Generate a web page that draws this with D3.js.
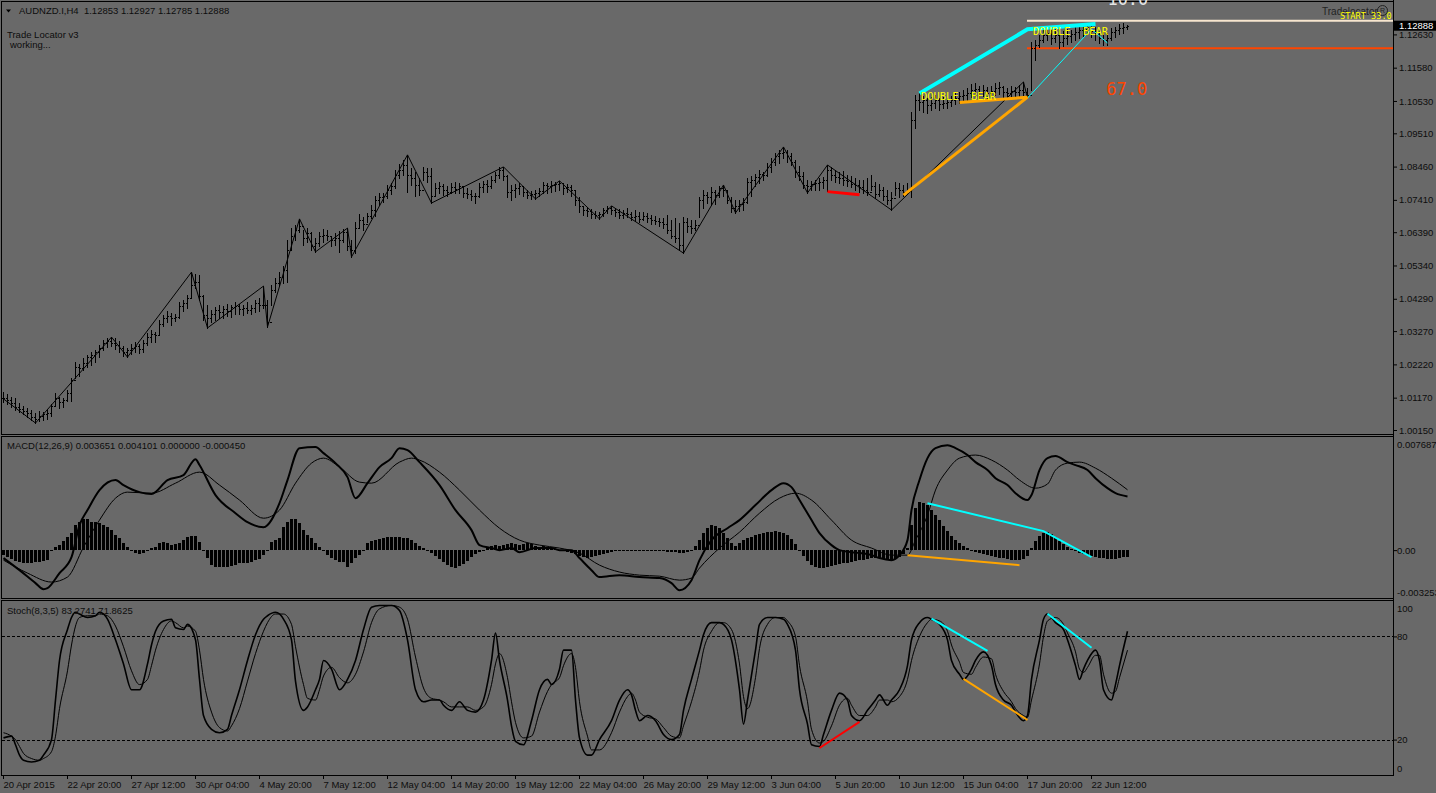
<!DOCTYPE html>
<html>
<head>
<meta charset="utf-8">
<title>AUDNZD.I,H4</title>
<script src="https://cdn.jsdelivr.net/npm/d3@7/dist/d3.min.js"></script>
<style>
  body { margin: 0; background: #696969; overflow: hidden; }
  svg { display: block; }
  text { font-family: "Liberation Sans", Arial, sans-serif; font-size: 9.5px; fill: #0d0d0d; white-space: pre; }
  .mono { font-family: "DejaVu Sans Mono", monospace; }
</style>
</head>
<body>
<svg id="chart" width="1436" height="793"></svg>
<script>
// H4 bars, prices in pips above 1.0000
var highPips = [135,129,119,116,100,91,84,78,69,75,
  72,81,97,132,119,116,141,179,230,223,
  242,252,261,267,283,299,305,308,305,296,
  280,274,286,293,286,299,321,330,324,362,
  378,390,384,381,419,425,441,513,507,504,
  441,409,394,403,409,406,412,409,419,412,
  409,419,409,425,431,469,425,472,495,513,
  532,614,652,662,681,646,652,640,621,640,
  649,646,627,637,643,649,652,614,671,696,
  687,700,725,753,763,763,788,794,835,854,
  867,883,842,829,810,845,842,842,794,797,
  791,785,794,797,794,782,778,772,763,794,
  801,804,816,829,845,845,819,788,791,794,
  785,772,769,772,778,797,794,801,797,801,
  794,791,788,769,750,722,715,712,706,703,
  715,722,722,715,712,709,715,703,709,703,
  703,700,693,690,684,684,693,678,684,668,
  687,684,678,678,750,772,766,782,772,785,
  788,772,750,741,741,747,810,816,823,835,
  829,857,873,889,898,908,898,889,867,848,
  829,804,801,804,810,813,851,845,835,829,
  832,819,816,810,804,804,810,819,797,791,
  782,772,766,797,794,788,794,1018,1072,1078,
  1069,1062,1066,1072,1062,1066,1062,1069,1078,1081,
  1088,1094,1107,1110,1100,1103,1097,1100,1110,1113,
  1100,1094,1100,1097,1103,1113,1094,1239,1245,1261,
  1277,1283,1277,1283,1277,1274,1280,1277,1286,1293,
  1296,1299,1293,1286,1277,1271,1267,1283,1286,1296,
  1299,1293];
var lowPips = [103,97,88,78,72,65,56,47,37,43,
  47,50,59,91,84,88,106,106,179,185,
  204,214,220,230,245,267,277,280,271,261,
  248,245,255,261,258,261,283,293,293,318,
  343,356,346,359,368,390,400,435,463,425,
  362,337,356,362,368,368,375,371,381,381,
  378,384,381,387,390,400,340,409,450,469,
  479,482,583,614,640,599,608,583,577,595,
  608,614,595,599,577,608,583,561,573,652,
  646,671,684,690,725,734,747,760,778,810,
  819,766,788,753,756,804,797,731,753,763,
  756,753,763,763,763,750,747,741,731,750,
  766,766,778,797,810,804,750,741,750,760,
  753,747,744,744,753,763,763,766,769,772,
  760,766,753,725,703,693,690,684,684,681,
  690,700,696,690,684,684,687,678,674,671,
  678,671,665,665,659,652,637,621,608,583,
  573,640,637,646,687,715,731,725,728,750,
  753,731,703,700,706,709,731,753,785,794,
  804,816,829,851,857,873,860,851,813,804,
  778,763,772,772,772,778,769,804,797,794,
  788,785,782,772,766,763,756,772,747,753,
  741,728,709,756,750,753,760,750,968,1025,
  1018,1015,1025,1031,1025,1031,1031,1037,1043,1047,
  1050,1056,1066,1069,1062,1069,1062,1069,1072,1075,
  1066,1066,1069,1066,1069,1072,1062,1088,1182,1223,
  1239,1245,1233,1239,1220,1226,1233,1239,1245,1252,
  1258,1264,1255,1245,1236,1230,1230,1245,1255,1264,
  1267,1279];
var closePips = [116,110,100,88,81,75,69,56,50,59,
  65,69,91,116,103,110,132,173,214,211,
  226,245,252,261,274,289,296,289,283,274,
  261,267,274,280,271,289,308,318,315,349,
  368,375,368,371,406,416,431,472,482,438,
  378,368,381,394,387,397,390,403,406,397,
  400,394,400,416,409,409,356,457,479,498,
  520,583,627,646,659,621,637,595,605,627,
  630,627,614,621,614,640,595,583,652,678,
  665,690,709,741,750,753,772,785,819,835,
  851,819,810,788,772,829,816,753,778,785,
  772,766,782,775,785,763,760,753,753,782,
  791,785,804,819,835,816,766,772,778,785,
  766,756,760,763,769,788,785,788,791,794,
  778,782,772,741,722,709,706,696,693,696,
  709,715,709,703,693,700,696,687,690,681,
  690,684,678,674,671,665,646,627,621,599,
  671,659,652,662,741,756,750,766,756,778,
  772,741,715,722,728,734,797,804,813,823,
  819,845,860,879,889,892,879,860,829,816,
  788,785,791,794,797,804,835,819,813,810,
  804,801,791,788,782,772,766,785,760,772,
  753,741,747,778,772,766,772,993,1056,1050,
  1056,1040,1047,1056,1043,1047,1050,1056,1062,1069,
  1072,1078,1088,1091,1081,1088,1078,1084,1094,1097,
  1081,1078,1084,1081,1088,1081,1072,1220,1230,1245,
  1261,1267,1252,1261,1239,1252,1258,1264,1271,1277,
  1280,1286,1274,1264,1252,1245,1252,1271,1277,1283,
  1286,1289];

// zigzag pivots [bar, pips]
var zigzag = [[0,113],[8,37],[27,308],[31,245],[47,513],[51,337],[65,469],[66,340],[74,681],[78,577],
  [86,652],[87,561],[101,883],[107,731],[125,845],[133,744],[139,801],[149,681],[152,722],[170,573],
  [180,788],[183,700],[195,908],[201,763],[206,851],[222,709],[255,1113],[256,1062]];
var zigzagLast = [[256,1.1062],[272,1.1280],[276,1.1236]];

// Trade Locator marks on the price window [bar, price]
var orangeLines = [[[225,1.0756],[256,1.1065]], [[239,1.1048],[256,1.1065]]];
var cyanLine = [[229,1.1077],[256,1.1279],[273,1.1296]];
var redLine = [[206,1.0767],[214,1.0757]];
var startBar = 256;
var whiteLevel = 1.1306;
var redLevel = 1.1219;

var priceTicks = [1.1263, 1.1158, 1.1053, 1.0951, 1.0846, 1.0741, 1.0639, 1.0534, 1.0429, 1.0327, 1.0222, 1.0117, 1.0015];
var lastPrice = 1.12888;

var timeLabels = ['20 Apr 2015', '22 Apr 20:00', '27 Apr 12:00', '30 Apr 04:00', '4 May 20:00', '7 May 12:00',
  '12 May 04:00', '14 May 20:00', '19 May 12:00', '22 May 04:00', '26 May 20:00', '29 May 12:00',
  '3 Jun 04:00', '5 Jun 20:00', '10 Jun 12:00', '15 Jun 04:00', '17 Jun 20:00', '22 Jun 12:00'];

// MACD(12,26,9) [bar, value]
var macdMain = [[0,-0.00054],[4,-0.00136],[8,-0.00224],[10,-0.00265],[11,-0.00258],[14,-0.00156],[17,-0.00048],[19,0.00170],
  [21,0.00272],[24,0.00408],[28,0.00476],[30,0.00442],[34,0.00394],[37,0.00381],[41,0.00476],[45,0.00510],[48,0.00618],
  [49,0.00578],[53,0.00374],[58,0.00251],[61,0.00190],[65,0.00156],[69,0.00319],[71,0.00476],[74,0.00693],[78,0.00700],
  [80,0.00659],[83,0.00591],[86,0.00496],[88,0.00353],[91,0.00455],[94,0.00564],[97,0.00625],[99,0.00693],[101,0.00680],
  [104,0.00598],[109,0.00442],[113,0.00272],[117,0.00136],[119,0.00034],[122,0.00014],[124,0],[127,0.00014],[129,-0.00014],
  [133,0.00014],[137,0.00014],[139,0],[142,0],[144,-0.00054],[147,-0.00136],[149,-0.00183],[154,-0.00170],[159,-0.00183],
  [164,-0.00190],[167,-0.00224],[169,-0.00272],[172,-0.00204],[174,-0.00068],[177,0.00068],[181,0.00149],[184,0.00204],
  [188,0.00306],[192,0.00408],[195,0.00455],[197,0.00428],[199,0.00340],[202,0.00204],[204,0.00116],[207,0.00034],[209,0],
  [212,-0.00014],[214,-0.00020],[217,-0.00034],[219,-0.00054],[222,-0.00068],[224,-0.00034],[226,0.00068],[227,0.00272],
  [229,0.00476],[231,0.00625],[233,0.00693],[236,0.00713],[238,0.00693],[241,0.00646],[243,0.00598],[246,0.00544],
  [248,0.00489],[251,0.00442],[253,0.00387],[256,0.00340],[257,0.00374],[259,0.00544],[261,0.00625],[263,0.00639],
  [266,0.00598],[268,0.00578],[271,0.00544],[273,0.00489],[276,0.00421],[278,0.00387],[281,0.00365]];
var macdSignal = [[0,-0.00068],[6,-0.00156],[12,-0.00217],[16,-0.00183],[20,0.00020],[24,0.00204],[28,0.00353],[31,0.00394],
  [37,0.00387],[43,0.00455],[49,0.00530],[54,0.00442],[59,0.00340],[65,0.00217],[69,0.00272],[73,0.00455],[77,0.00591],
  [80,0.00625],[84,0.00564],[89,0.00462],[92,0.00455],[99,0.00598],[102,0.00625],[104,0.00612],[109,0.00530],[114,0.00408],
  [119,0.00272],[124,0.00149],[129,0.00068],[134,0.00034],[139,0.00014],[144,-0.00020],[149,-0.00102],[154,-0.00149],
  [159,-0.00170],[164,-0.00177],[169,-0.00204],[172,-0.00190],[174,-0.00122],[179,0.00014],[184,0.00122],[189,0.00251],
  [194,0.00353],[198,0.00387],[202,0.00340],[207,0.00204],[212,0.00068],[217,0.00014],[222,-0.00034],[226,-0.00034],
  [228,0.00068],[231,0.00238],[233,0.00408],[236,0.00544],[239,0.00625],[243,0.00646],[247,0.00612],[251,0.00544],
  [254,0.00476],[258,0.00421],[261,0.00449],[263,0.00544],[266,0.00591],[269,0.00598],[273,0.00557],[277,0.00489],[281,0.00410]];
var macdHist = [-0.00034,-0.00048,-0.00061,-0.00075,-0.00082,-0.00088,-0.00088,-0.00088,-0.00082,-0.00082,
  -0.00075,-0.00068,-0.00007,0.00020,0.00034,0.00061,0.00088,0.00116,0.00170,0.00190,
  0.00211,0.00211,0.00190,0.00190,0.00183,0.00170,0.00156,0.00136,0.00102,0.00082,
  0.00048,0.00020,0,-0.00020,-0.00027,-0.00020,-0.00007,0.00014,0.00020,0.00048,
  0.00054,0.00048,0.00034,0.00041,0.00048,0.00068,0.00088,0.00095,0.00095,0.00054,
  0,-0.00054,-0.00102,-0.00116,-0.00116,-0.00116,-0.00116,-0.00109,-0.00102,-0.00088,
  -0.00088,-0.00088,-0.00082,-0.00068,-0.00061,-0.00034,-0.00007,0.00054,0.00068,0.00082,
  0.00156,0.00190,0.00211,0.00211,0.00183,0.00136,0.00102,0.00082,0.00048,0.00020,
  0,-0.00034,-0.00054,-0.00068,-0.00082,-0.00082,-0.00116,-0.00088,-0.00054,-0.00034,
  0,0.00048,0.00061,0.00068,0.00075,0.00082,0.00088,0.00088,0.00088,0.00088,
  0.00082,0.00082,0.00068,0.00048,0.00027,0.00014,0,-0.00020,-0.00041,-0.00061,
  -0.00082,-0.00102,-0.00116,-0.00122,-0.00109,-0.00095,-0.00075,-0.00048,-0.00027,-0.00014,
  0,0.00014,0.00027,0.00034,0.00027,0.00034,0.00041,0.00048,0.00041,0.00034,
  0.00041,0.00048,0.00041,0.00027,0.00020,0.00027,0.00020,0.00014,0.00007,0,
  -0.00007,-0.00014,-0.00020,-0.00027,-0.00041,-0.00048,-0.00054,-0.00048,-0.00041,-0.00034,
  -0.00027,-0.00020,-0.00014,-0.00007,-0.00007,-0.00007,0,0,0,-0.00007,
  -0.00007,0,0,-0.00007,-0.00007,-0.00007,-0.00014,-0.00014,-0.00014,-0.00020,
  -0.00020,-0.00014,0,0.00027,0.00068,0.00116,0.00149,0.00170,0.00163,0.00149,
  0.00116,0.00082,0.00048,0.00027,0.00048,0.00068,0.00082,0.00088,0.00102,0.00109,
  0.00116,0.00122,0.00122,0.00129,0.00122,0.00116,0.00102,0.00075,0.00041,0,
  -0.00041,-0.00075,-0.00102,-0.00116,-0.00122,-0.00122,-0.00116,-0.00109,-0.00102,-0.00095,
  -0.00088,-0.00088,-0.00082,-0.00075,-0.00068,-0.00068,-0.00061,-0.00054,-0.00054,-0.00054,
  -0.00061,-0.00068,-0.00068,-0.00061,-0.00048,-0.00027,0.00014,0.00170,0.00285,0.00326,
  0.00319,0.00306,0.00272,0.00238,0.00204,0.00163,0.00129,0.00095,0.00068,0.00048,
  0.00027,0.00014,0,-0.00014,-0.00020,-0.00027,-0.00034,-0.00041,-0.00048,-0.00054,
  -0.00054,-0.00061,-0.00068,-0.00068,-0.00068,-0.00061,-0.00041,0.00014,0.00061,0.00095,
  0.00116,0.00122,0.00109,0.00088,0.00061,0.00041,0.00020,0.00007,-0.00007,-0.00020,
  -0.00027,-0.00034,-0.00041,-0.00048,-0.00054,-0.00054,-0.00061,-0.00061,-0.00061,-0.00054,
  -0.00048,-0.00045];
var macdCyan = [[231,0.00319],[260,0.00129],[272,-0.00048]];
var macdOrange = [[226,-0.00034],[254,-0.00102]];
var macdMax = 0.007687;
var macdMin = -0.003253;

// Stoch(8,3,5) [bar, value]
var stochMain = [[0,21],[2,22],[3,17],[4,11],[5,8],[7,7],[9,8],[10,11],[12,20],[13,43],[14,66],[16,84],[17,91],[18,94],
  [19,93],[21,91],[23,92],[24,94],[26,90],[28,78],[30,64],[32,49],[34,49],[36,64],[37,75],[38,83],[40,89],[42,90],[43,85],
  [45,84],[46,87],[48,78],[49,55],[50,34],[52,26],[54,24],[56,26],[57,34],[59,49],[61,66],[63,81],[65,90],[66,92],[68,94],
  [70,90],[72,78],[73,54],[75,37],[76,39],[78,49],[79,55],[80,66],[82,61],[84,49],[86,55],[88,66],[90,84],[92,97],[94,98],
  [97,98],[99,95],[101,78],[103,49],[105,42],[107,43],[109,43],[110,40],[112,37],[114,42],[116,37],[118,36],[120,43],
  [122,66],[123,82],[124,66],[126,43],[127,28],[128,19],[130,17],[132,31],[134,49],[136,55],[137,52],[139,61],[140,72],
  [142,72],[143,43],[144,21],[146,11],[147,11],[149,20],[152,31],[154,43],[156,49],[157,46],[158,37],[159,31],[161,34],
  [163,31],[165,23],[167,20],[169,23],[170,37],[172,55],[174,72],[175,81],[177,88],[179,88],[180,87],[182,78],[184,49],
  [185,29],[186,43],[188,72],[189,87],[191,91],[193,91],[195,90],[196,87],[198,72],[199,49],[201,29],[202,17],[204,16],
  [205,23],[207,37],[209,47],[211,43],[212,34],[214,31],[216,37],[218,43],[219,46],[221,40],[222,43],[224,49],[226,63],
  [227,78],[229,88],[231,91],[232,90],[234,87],[236,78],[237,66],[239,58],[240,55],[242,61],[243,66],[245,71],[247,63],
  [248,52],[250,43],[252,40],[253,36],[255,31],[256,34],[257,55],[259,78],[260,90],[261,93],[263,88],[265,84],[266,78],
  [268,63],[269,55],[270,61],[271,66],[273,72],[274,66],[275,49],[277,43],[278,52],[279,63],[281,83]];
var stochSignal = [[0,24],[2,22],[3,20],[4,16],[5,12],[7,9],[9,8],[10,9],[12,13],[13,22],[14,38],[16,60],[17,75],[18,86],
  [19,91],[21,92],[23,92],[24,93],[26,92],[28,86],[30,74],[32,60],[34,52],[36,55],[37,63],[38,72],[40,84],[42,89],[43,88],
  [45,85],[46,86],[48,83],[49,72],[50,55],[52,36],[54,27],[56,25],[57,28],[59,38],[61,54],[63,70],[65,83],[66,88],[68,93],
  [70,93],[72,87],[73,74],[75,52],[76,44],[78,43],[79,49],[80,57],[82,62],[84,56],[86,53],[88,58],[90,71],[92,88],[94,96],
  [97,98],[99,97],[101,90],[103,68],[105,50],[107,44],[109,43],[110,42],[112,39],[114,39],[116,39],[118,37],[120,39],
  [122,52],[123,64],[124,70],[126,56],[127,42],[128,30],[130,21],[132,22],[134,36],[136,48],[137,52],[139,56],[140,63],
  [142,70],[143,62],[144,42],[146,22],[147,14],[149,14],[152,24],[154,36],[156,45],[157,47],[158,43],[159,36],[161,33],
  [163,32],[165,27],[167,22],[169,21],[170,28],[172,42],[174,60],[175,72],[177,83],[179,88],[180,88],[182,84],[184,64],
  [185,45],[186,38],[188,56],[189,73],[191,87],[193,91],[195,91],[196,89],[198,80],[199,63],[201,42],[202,26],[204,18],
  [205,19],[207,28],[209,40],[211,44],[212,40],[214,34],[216,34],[218,39],[219,43],[221,43],[222,42],[224,45],[226,55],
  [227,66],[229,80],[231,88],[232,90],[234,89],[236,83],[237,75],[239,65],[240,59],[242,58],[243,62],[245,68],[247,67],
  [248,58],[250,48],[252,42],[253,38],[255,34],[256,33],[257,43],[259,64],[260,80],[261,89],[263,91],[265,87],[266,82],
  [268,71],[269,61],[270,59],[271,62],[273,69],[274,69],[275,58],[277,47],[278,48],[279,56],[281,72]];
var stochRed = [[204,15.1],[214,30.3]];
var stochCyan = [[[232,90.3],[246,71.6]], [[261,93.2],[272,73.4]]];
var stochOrange = [[240,55.3],[256,31.4]];
var stochLevels = [80, 20];

function pip(p) { return 1 + p / 10000; }

var svg = d3.select('#chart');
var plotRight = 1393;

var x = d3.scaleLinear().domain([0, 281]).range([3, 1127]);
var yPrice = d3.scaleLinear().domain([1.0015, 1.1263]).range([430, 34.4]);
var yMacd = d3.scaleLinear().domain([macdMin, macdMax]).range([598, 437]);
var yStoch = d3.scaleLinear().domain([0, 100]).range([774, 602]);

svg.append('rect').attr('width', 1436).attr('height', 793).attr('fill', '#696969');

// window frames
var frames = [[1.5, 1.5, 433], [1.5, 436.5, 162], [1.5, 600.5, 175]];
svg.append('g')
   .selectAll('rect')
   .data(frames)
   .enter()
   .append('rect')
   .attr('x', function(d){ return d[0]; })
   .attr('y', function(d){ return d[1]; })
   .attr('width', plotRight - 1)
   .attr('height', function(d){ return d[2]; })
   .attr('fill', 'none')
   .attr('stroke', '#000')
   .attr('shape-rendering', 'crispEdges');

// ---------- price window ----------
var priceLine = d3.line()
                  .x(function(d){ return x(d[0]) + 0.5; })
                  .y(function(d){ return yPrice(d[1]); });

// horizontal levels from the start bar
svg.append('line')
   .attr('x1', x(startBar)).attr('x2', plotRight)
   .attr('y1', yPrice(whiteLevel)).attr('y2', yPrice(whiteLevel))
   .attr('stroke', '#f7e6cf').attr('stroke-width', 2);
svg.append('line')
   .attr('x1', x(startBar)).attr('x2', plotRight)
   .attr('y1', yPrice(redLevel)).attr('y2', yPrice(redLevel))
   .attr('stroke', '#ff4500').attr('stroke-width', 2);

var bars = svg.append('g')
              .attr('stroke', '#000')
              .attr('fill', 'none')
              .attr('shape-rendering', 'crispEdges');
bars.selectAll('path')
    .data(closePips.map(function(c, i) {
       return { i: i, h: pip(highPips[i]), l: pip(lowPips[i]), o: pip(i ? closePips[i - 1] : c), c: pip(c) };
    }))
    .enter()
    .append('path')
    .attr('d', function(d) {
       var cx = x(d.i) + 0.5;
       var yo = Math.round(yPrice(d.o)) + 0.5;
       var yc = Math.round(yPrice(d.c)) + 0.5;
       return 'M' + cx + ',' + Math.round(yPrice(d.h)) + 'V' + (Math.round(yPrice(d.l)) + 1) +
              'M' + (cx - 1.5) + ',' + yo + 'H' + cx +
              'M' + cx + ',' + yc + 'H' + (cx + 1.5);
    });

svg.append('path')
   .datum(zigzag.map(function(d){ return [d[0], pip(d[1])]; }))
   .attr('d', priceLine)
   .attr('fill', 'none')
   .attr('stroke', '#000')
   .attr('stroke-width', 1);

svg.append('path')
   .datum(zigzagLast)
   .attr('d', priceLine)
   .attr('fill', 'none')
   .attr('stroke', '#00ffff')
   .attr('stroke-width', 1);

svg.append('g')
   .selectAll('path')
   .data(orangeLines)
   .enter()
   .append('path')
   .attr('d', priceLine)
   .attr('fill', 'none')
   .attr('stroke', '#ffa500')
   .attr('stroke-width', 3);

svg.append('path')
   .datum(cyanLine)
   .attr('d', priceLine)
   .attr('fill', 'none')
   .attr('stroke', '#00ffff')
   .attr('stroke-width', 4);

svg.append('path')
   .datum(redLine)
   .attr('d', priceLine)
   .attr('fill', 'none')
   .attr('stroke', '#ff0000')
   .attr('stroke-width', 3);

svg.append('text').attr('class', 'mono')
   .attr('x', x(229.5)).attr('y', yPrice(1.1056))
   .style('font-size', '10.4px').style('fill', '#ffff00')
   .text('DOUBLE  BEAR');
svg.append('text').attr('class', 'mono')
   .attr('x', x(257.5)).attr('y', yPrice(1.1261))
   .style('font-size', '10.4px').style('fill', '#ffff00')
   .text('DOUBLE  BEAR');
svg.append('text').attr('class', 'mono')
   .attr('x', x(275.8)).attr('y', yPrice(1.1072))
   .style('font-size', '17px').style('fill', '#ff4500')
   .text('67.0');
svg.append('text').attr('class', 'mono')
   .attr('x', x(276.1)).attr('y', 5)
   .style('font-size', '17px').style('fill', '#e6e6e6')
   .text('10.0');

// price axis
svg.append('g')
   .attr('transform', 'translate(' + plotRight + ',0)')
   .call(d3.axisRight(yPrice).tickValues(priceTicks).tickFormat(d3.format('.5f')).tickSize(4).tickPadding(2))
   .call(function(g) {
      g.select('.domain').remove();
      g.selectAll('line').attr('stroke', '#000');
   });
svg.append('rect')
   .attr('x', plotRight + 1).attr('y', yPrice(lastPrice) - 5.5)
   .attr('width', 1436 - plotRight).attr('height', 10)
   .attr('fill', '#000');
svg.append('text')
   .attr('x', plotRight + 6).attr('y', yPrice(lastPrice)).attr('dy', '0.32em')
   .style('fill', '#ffffff')
   .text(d3.format('.5f')(lastPrice));

// headers
svg.append('path').attr('d', 'M6,9.5H11L8.5,12.5Z').attr('fill', '#000');
svg.append('text').attr('x', 19).attr('y', 14).text('AUDNZD.I,H4  1.12853 1.12927 1.12785 1.12888');
svg.append('text').attr('x', 7).attr('y', 38).text('Trade Locator v3');
svg.append('text').attr('x', 10).attr('y', 48).text('working...');
svg.append('text').attr('x', 1322).attr('y', 15).style('font-size', '10px').style('fill', '#222').text('Tradelocator');
svg.append('circle').attr('cx', 1382.5).attr('cy', 10.5).attr('r', 5).attr('fill', 'none').attr('stroke', '#222');
svg.append('text').attr('x', 1382.5).attr('y', 13).attr('text-anchor', 'middle').style('font-size', '7px').style('fill', '#222').text('R');
svg.append('text').attr('class', 'mono')
   .attr('x', 1340).attr('y', 19)
   .style('font-size', '8.6px').style('fill', '#ffff00')
   .text('START 33.0');

// ---------- MACD window ----------
var macdLine = d3.line()
                 .curve(d3.curveMonotoneX)
                 .x(function(d){ return x(d[0]) + 0.5; })
                 .y(function(d){ return yMacd(d[1]); });
var straightMacd = d3.line()
                     .x(function(d){ return x(d[0]) + 0.5; })
                     .y(function(d){ return yMacd(d[1]); });

svg.append('g')
   .attr('shape-rendering', 'crispEdges')
   .selectAll('rect')
   .data(macdHist)
   .enter()
   .append('rect')
   .attr('x', function(d, i){ return x(i) - 1; })
   .attr('width', 3)
   .attr('y', function(d){ return Math.round(Math.min(yMacd(0), yMacd(d))); })
   .attr('height', function(d){ return Math.max(1, Math.round(Math.abs(yMacd(d) - yMacd(0)))); })
   .attr('fill', '#000');

svg.append('path').datum(macdSignal).attr('d', macdLine)
   .attr('fill', 'none').attr('stroke', '#000').attr('stroke-width', 1);
svg.append('path').datum(macdMain).attr('d', macdLine)
   .attr('fill', 'none').attr('stroke', '#000').attr('stroke-width', 2);

svg.append('path').datum(macdCyan).attr('d', straightMacd)
   .attr('fill', 'none').attr('stroke', '#00ffff').attr('stroke-width', 2);
svg.append('path').datum(macdOrange).attr('d', straightMacd)
   .attr('fill', 'none').attr('stroke', '#ffa500').attr('stroke-width', 2);

svg.append('g')
   .attr('transform', 'translate(' + plotRight + ',0)')
   .call(d3.axisRight(yMacd).tickValues([0]).tickFormat(d3.format('.2f')).tickSize(4).tickPadding(0))
   .call(function(g) {
      g.select('.domain').remove();
      g.selectAll('line').attr('stroke', '#000');
   });
svg.append('text').attr('x', plotRight + 4).attr('y', yMacd(macdMax) + 8).attr('dy', '0.32em').text(macdMax.toFixed(6));
svg.append('text').attr('x', plotRight + 4).attr('y', yMacd(macdMin) - 5).attr('dy', '0.32em').text(macdMin.toFixed(6));
svg.append('text').attr('x', 7).attr('y', 449).text('MACD(12,26,9) 0.003651 0.004101 0.000000 -0.000450');

// ---------- Stochastic window ----------
var stochLine = d3.line()
                  .curve(d3.curveMonotoneX)
                  .x(function(d){ return x(d[0]) + 0.5; })
                  .y(function(d){ return yStoch(d[1]); });
var straightStoch = d3.line()
                      .x(function(d){ return x(d[0]) + 0.5; })
                      .y(function(d){ return yStoch(d[1]); });

svg.append('g')
   .selectAll('line')
   .data(stochLevels)
   .enter()
   .append('line')
   .attr('x1', 2).attr('x2', plotRight)
   .attr('y1', function(d){ return Math.round(yStoch(d)) + 0.5; })
   .attr('y2', function(d){ return Math.round(yStoch(d)) + 0.5; })
   .attr('stroke', '#000')
   .attr('stroke-dasharray', '3,2');

svg.append('path').datum(stochSignal).attr('d', stochLine)
   .attr('fill', 'none').attr('stroke', '#000').attr('stroke-width', 1);
svg.append('path').datum(stochMain).attr('d', stochLine)
   .attr('fill', 'none').attr('stroke', '#000').attr('stroke-width', 1.6);

svg.append('path').datum(stochRed).attr('d', straightStoch)
   .attr('fill', 'none').attr('stroke', '#ff0000').attr('stroke-width', 2);
svg.append('g')
   .selectAll('path')
   .data(stochCyan)
   .enter()
   .append('path')
   .attr('d', straightStoch)
   .attr('fill', 'none').attr('stroke', '#00ffff').attr('stroke-width', 2);
svg.append('path').datum(stochOrange).attr('d', straightStoch)
   .attr('fill', 'none').attr('stroke', '#ffa500').attr('stroke-width', 2);

svg.append('g')
   .attr('transform', 'translate(' + plotRight + ',0)')
   .call(d3.axisRight(yStoch).tickValues(stochLevels).tickSize(4).tickPadding(0))
   .call(function(g) {
      g.select('.domain').remove();
      g.selectAll('line').attr('stroke', '#000');
   });
svg.append('text').attr('x', plotRight + 4).attr('y', yStoch(100) + 7).attr('dy', '0.32em').text('100');
svg.append('text').attr('x', plotRight + 4).attr('y', yStoch(0) - 5).attr('dy', '0.32em').text('0');
svg.append('text').attr('x', 7).attr('y', 614).text('Stoch(8,3,5) 83.2741 71.8625');

// right axis line
svg.append('line')
   .attr('x1', plotRight + 0.5).attr('x2', plotRight + 0.5)
   .attr('y1', 0).attr('y2', 776)
   .attr('stroke', '#000');

// time axis
svg.append('g')
   .attr('transform', 'translate(0,775)')
   .call(d3.axisBottom(x)
           .tickValues(timeLabels.map(function(d, k){ return k * 16; }))
           .tickFormat(function(d, k){ return timeLabels[k]; })
           .tickSize(4)
           .tickPadding(2))
   .call(function(g) {
      g.select('.domain').remove();
      g.selectAll('line').attr('stroke', '#000');
      g.selectAll('text').attr('text-anchor', 'start');
   });
</script>
</body>
</html>
